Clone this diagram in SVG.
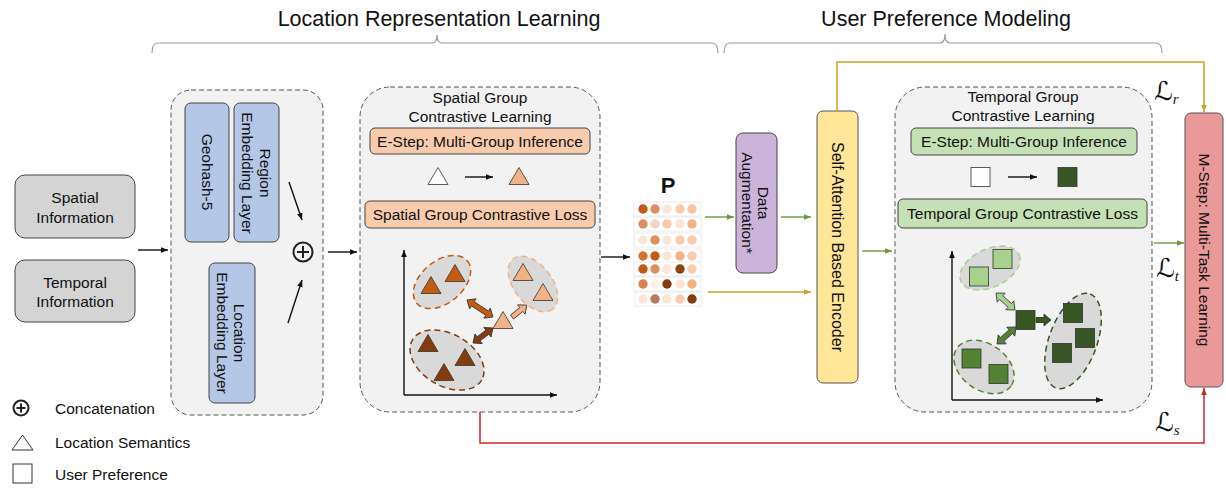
<svg xmlns="http://www.w3.org/2000/svg" width="1226" height="489" viewBox="0 0 1226 489">
<style>
text{font-family:"Liberation Sans",Arial,sans-serif;fill:#111}
.t{font-size:15.5px;text-anchor:middle}
.rot{font-size:15.5px;text-anchor:middle;dominant-baseline:central}
.title{font-size:21.5px;text-anchor:middle}
.leg{font-size:15.5px}
.cont{fill:#f2f2f2;stroke:#555;stroke-width:1;stroke-dasharray:5 3}
.gray{fill:#d4d4d4;stroke:#444;stroke-width:1}
.blue{fill:#b4c7e7;stroke:#444;stroke-width:1}
.org{fill:#f8cbad;stroke:#444;stroke-width:1}
.grn{fill:#c5e0b4;stroke:#444;stroke-width:1}
.pur{fill:#ccb3da;stroke:#444;stroke-width:1}
.yel{fill:#ffe699;stroke:#555;stroke-width:1}
.pink{fill:#ea9999;stroke:#555;stroke-width:1}
.ell{fill:#d9d9d9;stroke-width:1.5;stroke-dasharray:6 4}
.ln{fill:none;stroke:#111;stroke-width:1.4}
.sh{stroke:#333;stroke-width:0.8}
.brace{fill:none;stroke:#999;stroke-width:1.2}
.L{font-family:"DejaVu Sans",sans-serif;font-size:26px}
.sub{font-family:"Liberation Serif",serif;font-style:italic;font-size:15px}
</style>
<defs>
<marker id="ak" viewBox="0 0 10 10" refX="10" refY="5" markerWidth="7" markerHeight="7" markerUnits="userSpaceOnUse" orient="auto"><path d="M0,1 L10,5 L0,9 z" fill="#111"/></marker>
<marker id="ag" viewBox="0 0 10 10" refX="10" refY="5" markerWidth="7" markerHeight="7" markerUnits="userSpaceOnUse" orient="auto"><path d="M0,1 L10,5 L0,9 z" fill="#6a9a3a"/></marker>
<marker id="ay" viewBox="0 0 10 10" refX="10" refY="5" markerWidth="7" markerHeight="7" markerUnits="userSpaceOnUse" orient="auto"><path d="M0,1 L10,5 L0,9 z" fill="#c9a227"/></marker>
<marker id="ar" viewBox="0 0 10 10" refX="10" refY="5" markerWidth="7" markerHeight="7" markerUnits="userSpaceOnUse" orient="auto"><path d="M0,1 L10,5 L0,9 z" fill="#c62828"/></marker>
<path id="tri" d="M-10,8.5 L0,-8.5 L10,8.5 Z"/>
<rect id="sq" x="-9.5" y="-9.5" width="19" height="19"/>
</defs>

<g id="headers">
<text class="title" x="439" y="26">Location Representation Learning</text>
<path class="brace" d="M152,53 Q152,43 158,43 L432,43 Q437,43 437,35 Q437,43 442,43 L712,43 Q718,43 718,53"/>
<text class="title" x="946" y="26">User Preference Modeling</text>
<path class="brace" d="M724,53 Q724,43 730,43 L940,43 Q945,43 945,34 Q945,43 950,43 L1156,43 Q1162,43 1162,53"/>
</g>

<g id="spatial-info">
<rect class="gray" x="15" y="175" width="120" height="63" rx="10"/>
<text class="t" x="75" y="203">Spatial</text>
<text class="t" x="75" y="223">Information</text>
</g>
<g id="temporal-info">
<rect class="gray" x="15" y="260" width="120" height="62" rx="10"/>
<text class="t" x="75" y="288">Temporal</text>
<text class="t" x="75" y="307">Information</text>
</g>

<g id="embedding">
<rect class="cont" x="171" y="90" width="152" height="325" rx="20"/>
<rect class="blue" x="185" y="103" width="44" height="139" rx="6"/>
<text class="rot" transform="translate(207,172) rotate(90)">Geohash-5</text>
<rect class="blue" x="234" y="103" width="45" height="139" rx="6"/>
<text class="rot" transform="translate(265,173) rotate(90)">Region</text>
<text class="rot" transform="translate(247,173) rotate(90)">Embedding Layer</text>
<rect class="blue" x="209" y="263" width="46" height="140" rx="6"/>
<text class="rot" transform="translate(239,333) rotate(90)">Location</text>
<text class="rot" transform="translate(222,333) rotate(90)">Embedding Layer</text>
<g id="concat">
<circle cx="303" cy="252" r="9.5" fill="none" stroke="#222" stroke-width="2"/>
<path d="M297,252 H309 M303,246 V258" stroke="#222" stroke-width="2"/>
</g>
</g>

<g id="spatial-gcl">
<rect class="cont" x="360" y="87" width="240" height="325" rx="30"/>
<text class="t" x="480" y="103">Spatial Group</text>
<text class="t" x="480" y="122">Contrastive Learning</text>
<rect class="org" x="370" y="128" width="220" height="26" rx="5"/>
<text class="t" x="480" y="146.5">E-Step: Multi-Group Inference</text>
<use href="#tri" x="438" y="176" fill="#fff" class="sh"/>
<line class="ln" x1="465" y1="177" x2="493" y2="177" stroke-width="1.2" marker-end="url(#ak)"/>
<use href="#tri" x="519" y="176" fill="#f4b183" class="sh"/>
<rect class="org" x="365" y="201" width="230" height="27" rx="5"/>
<text class="t" x="480" y="220">Spatial Group Contrastive Loss</text>
<path class="ln" d="M404,395 V250" stroke-width="1.4" marker-end="url(#ak)"/>
<path class="ln" d="M404,395 H557" stroke-width="1.4" marker-end="url(#ak)"/>
<ellipse class="ell" cx="442" cy="282" rx="33" ry="21" stroke="#c55a11" transform="rotate(-40 442 282)"/>
<ellipse class="ell" cx="533" cy="284" rx="32" ry="19" stroke="#f4b183" transform="rotate(52 533 284)"/>
<ellipse class="ell" cx="447" cy="360" rx="40" ry="26" stroke="#843c0c" transform="rotate(30 447 360)"/>
<use href="#tri" x="431" y="285" fill="#c55a11" class="sh"/>
<use href="#tri" x="455" y="273" fill="#c55a11" class="sh"/>
<use href="#tri" x="523" y="272" fill="#f4b183" class="sh"/>
<use href="#tri" x="543" y="292" fill="#f4b183" class="sh"/>
<use href="#tri" x="428" y="343" fill="#843c0c" class="sh"/>
<use href="#tri" x="465" y="357" fill="#843c0c" class="sh"/>
<use href="#tri" x="444" y="372" fill="#843c0c" class="sh"/>
<use href="#tri" x="503" y="320" fill="#f4b183" class="sh"/>
<path class="sh" fill="#c55a11" transform="translate(467,300) rotate(33.2)" d="M0,0 L7,-6 L7,-2.5 L24,-2.5 L24,-6 L31,0 L24,6 L24,2.5 L7,2.5 L7,6 Z"/>
<path class="sh" fill="#843c0c" transform="translate(473,343) rotate(-36.9)" d="M0,0 L7,-6 L7,-2.5 L18,-2.5 L18,-6 L25,0 L18,6 L18,2.5 L7,2.5 L7,6 Z"/>
<path class="sh" fill="#f4b183" transform="translate(512,317) rotate(-38.7)" d="M0,-2.5 L12,-2.5 L12,-6 L19,0 L12,6 L12,2.5 L0,2.5 Z"/>
</g>

<g id="matrix-P">
<text x="668" y="193" style="font-size:22px;font-weight:bold;text-anchor:middle">P</text>
<g fill="#fff" stroke="#ececec" stroke-width="1">
<rect x="634" y="202" width="67" height="14"/>
<rect x="634" y="217" width="67" height="14"/>
<rect x="634" y="233" width="67" height="14"/>
<rect x="634" y="249" width="67" height="14"/>
<rect x="634" y="262" width="67" height="14"/>
<rect x="634" y="277" width="67" height="14"/>
<rect x="635" y="292" width="66" height="14"/>
</g>
<g>
<circle cx="643" cy="209" r="4.7" fill="#c55a11"/><circle cx="655" cy="209" r="4.7" fill="#dc8f5f"/><circle cx="667" cy="209" r="4.7" fill="#fbe5d6"/><circle cx="680" cy="209" r="4.7" fill="#f8cbad"/><circle cx="692" cy="209" r="4.7" fill="#f6c2a0"/>
<circle cx="643" cy="224" r="4.7" fill="#dc8f5f"/><circle cx="655" cy="224" r="4.7" fill="#efd7c6"/><circle cx="667" cy="224" r="4.7" fill="#f8cbad"/><circle cx="680" cy="224" r="4.7" fill="#fbe5d6"/><circle cx="692" cy="224" r="4.7" fill="#f4b183"/>
<circle cx="643" cy="240" r="4.7" fill="#fbe5d6"/><circle cx="655" cy="240" r="4.7" fill="#dc8f5f"/><circle cx="667" cy="240" r="4.7" fill="#fbe5d6"/><circle cx="680" cy="240" r="4.7" fill="#f8cbad"/><circle cx="692" cy="240" r="4.7" fill="#f8cbad"/>
<circle cx="643" cy="256" r="4.7" fill="#d37332"/><circle cx="655" cy="256" r="4.7" fill="#c55a11"/><circle cx="667" cy="256" r="4.7" fill="#fbe5d6"/><circle cx="680" cy="256" r="4.7" fill="#f4b183"/><circle cx="692" cy="256" r="4.7" fill="#f8cbad"/>
<circle cx="643" cy="269" r="4.7" fill="#c55a11"/><circle cx="655" cy="269" r="4.7" fill="#dc8f5f"/><circle cx="667" cy="269" r="4.7" fill="#fbe5d6"/><circle cx="680" cy="269" r="4.7" fill="#8b4513"/><circle cx="692" cy="269" r="4.7" fill="#f8cbad"/>
<circle cx="643" cy="284" r="4.7" fill="#d9834a"/><circle cx="655" cy="284" r="4.7" fill="#fdf0e8"/><circle cx="667" cy="284" r="4.7" fill="#843c0c"/><circle cx="680" cy="284" r="4.7" fill="#fbe5d6"/><circle cx="692" cy="284" r="4.7" fill="#f4b183"/>
<circle cx="643" cy="299" r="4.7" fill="#fbe5d6"/><circle cx="655" cy="299" r="4.7" fill="#b07c62"/><circle cx="667" cy="299" r="4.7" fill="#fbe5d6"/><circle cx="680" cy="299" r="4.7" fill="#f8cbad"/><circle cx="692" cy="299" r="4.7" fill="#843c0c"/>
</g>
</g>

<g id="data-augmentation">
<rect class="pur" x="736" y="133" width="41" height="140" rx="7"/>
<text class="rot" transform="translate(763,203) rotate(90)">Data</text>
<text class="rot" transform="translate(747,203) rotate(90)">Augmentation*</text>
</g>

<g id="encoder">
<rect class="yel" x="817" y="111" width="41" height="272" rx="6"/>
<text class="rot" style="font-size:16px" transform="translate(837,247) rotate(90)">Self-Attention Based Encoder</text>
</g>

<g id="temporal-gcl">
<rect class="cont" x="895" y="87" width="257" height="325" rx="30"/>
<text class="t" x="1023" y="102">Temporal Group</text>
<text class="t" x="1023" y="121">Contrastive Learning</text>
<rect class="grn" x="911" y="128" width="226" height="27" rx="5"/>
<text class="t" x="1024" y="147">E-Step: Multi-Group Inference</text>
<use href="#sq" x="980.5" y="177" fill="#fff" class="sh"/>
<line class="ln" x1="1008" y1="177" x2="1037" y2="177" stroke-width="1.2" marker-end="url(#ak)"/>
<use href="#sq" x="1067.5" y="177" fill="#375623" class="sh"/>
<rect class="grn" x="898" y="199" width="249" height="29" rx="5"/>
<text class="t" x="1022.5" y="219">Temporal Group Contrastive Loss</text>
<path class="ln" d="M952,400 V251" marker-end="url(#ak)"/>
<path class="ln" d="M952,400 H1103" marker-end="url(#ak)"/>
<ellipse class="ell" cx="990" cy="268" rx="32" ry="19" stroke="#a9d18e" transform="rotate(-25 990 268)"/>
<ellipse class="ell" cx="984" cy="367" rx="33" ry="23" stroke="#548235" transform="rotate(35 984 367)"/>
<ellipse class="ell" cx="1073" cy="341" rx="50" ry="24" stroke="#375623" transform="rotate(-70 1073 341)"/>
<use href="#sq" x="979" y="276.5" fill="#a9d18e" class="sh"/>
<use href="#sq" x="1002.5" y="259" fill="#a9d18e" class="sh"/>
<use href="#sq" x="971.5" y="358.5" fill="#548235" class="sh"/>
<use href="#sq" x="998.5" y="374" fill="#548235" class="sh"/>
<use href="#sq" x="1073" y="313" fill="#375623" class="sh"/>
<use href="#sq" x="1085" y="338" fill="#375623" class="sh"/>
<use href="#sq" x="1062" y="353" fill="#375623" class="sh"/>
<use href="#sq" x="1025.5" y="320" fill="#375623" class="sh"/>
<path class="sh" fill="#a9d18e" transform="translate(996,293) rotate(41.8)" d="M0,0 L7,-6 L7,-2.5 L18.5,-2.5 L18.5,-6 L25.5,0 L18.5,6 L18.5,2.5 L7,2.5 L7,6 Z"/>
<path class="sh" fill="#548235" transform="translate(997,344) rotate(-41.8)" d="M0,0 L7,-6 L7,-2.5 L18.5,-2.5 L18.5,-6 L25.5,0 L18.5,6 L18.5,2.5 L7,2.5 L7,6 Z"/>
<path class="sh" fill="#375623" transform="translate(1036,320)" d="M0,-2.5 L8,-2.5 L8,-6 L15,0 L8,6 L8,2.5 L0,2.5 Z"/>
</g>

<g id="m-step">
<rect class="pink" x="1185" y="113" width="38" height="274" rx="6"/>
<text class="rot" transform="translate(1204,250) rotate(90)">M-Step: Multi-Task Learning</text>
</g>

<g id="loss-labels">
<text class="L" x="1154" y="100">ℒ<tspan class="sub" dy="4">r</tspan></text>
<text class="L" x="1156" y="277">ℒ<tspan class="sub" dy="4">t</tspan></text>
<text class="L" x="1155" y="431">ℒ<tspan class="sub" dy="4">s</tspan></text>
</g>

<g id="connectors">
<line class="ln" x1="138" y1="250" x2="168" y2="250" marker-end="url(#ak)"/>
<line class="ln" x1="289" y1="182" x2="302" y2="220" marker-end="url(#ak)"/>
<line class="ln" x1="288" y1="323" x2="302" y2="280" marker-end="url(#ak)"/>
<line class="ln" x1="328" y1="252" x2="357" y2="252" marker-end="url(#ak)"/>
<line class="ln" x1="601" y1="257" x2="630" y2="257" marker-end="url(#ak)"/>
<line x1="705" y1="217" x2="734" y2="217" stroke="#6a9a3a" stroke-width="1.4" marker-end="url(#ag)"/>
<line x1="781" y1="217" x2="811" y2="217" stroke="#6a9a3a" stroke-width="1.4" marker-end="url(#ag)"/>
<line x1="708" y1="292" x2="811" y2="292" stroke="#c9a227" stroke-width="1.4" marker-end="url(#ay)"/>
<line x1="862" y1="251" x2="892" y2="251" stroke="#6a9a3a" stroke-width="1.4" marker-end="url(#ag)"/>
<line x1="1154" y1="243" x2="1184" y2="243" stroke="#6a9a3a" stroke-width="1.4" marker-end="url(#ag)"/>
<path d="M837,111 V62 H1204 V112" fill="none" stroke="#c9a227" stroke-width="1.5" marker-end="url(#ay)"/>
<path d="M480,412 V443 H1204 V388" fill="none" stroke="#c62828" stroke-width="1.5" marker-end="url(#ar)"/>
</g>

<g id="legend">
<circle cx="21" cy="408" r="7.5" fill="none" stroke="#222" stroke-width="2"/>
<path d="M16.5,408 H25.5 M21,403.5 V412.5" stroke="#222" stroke-width="2"/>
<text class="leg" x="55" y="414">Concatenation</text>
<path d="M12,450 L22.5,435 L33,450 Z" fill="#fff" stroke="#333" stroke-width="1"/>
<text class="leg" x="55" y="448">Location Semantics</text>
<rect x="13" y="464" width="19" height="19" fill="#fff" stroke="#333" stroke-width="1"/>
<text class="leg" x="55" y="480">User Preference</text>
</g>
</svg>
